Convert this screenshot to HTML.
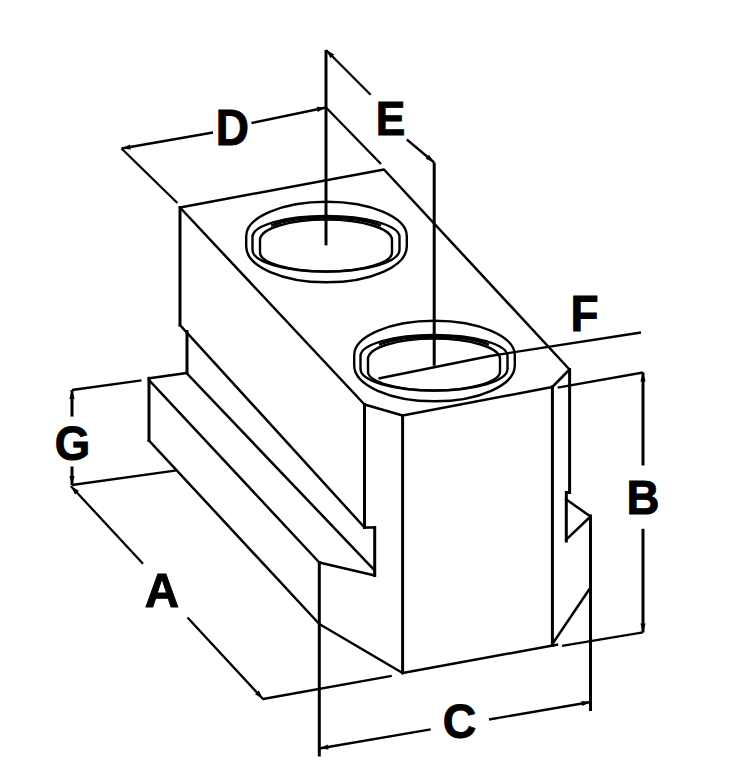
<!DOCTYPE html>
<html><head><meta charset="utf-8">
<style>
html,body{margin:0;padding:0;background:#fff;}
body{width:745px;height:781px;overflow:hidden;}
svg{display:block;}
text{font-family:"Liberation Sans",sans-serif;font-weight:bold;fill:#000;}
</style></head>
<body>
<svg width="745" height="781" viewBox="0 0 745 781">
<rect width="745" height="781" fill="#fff"/>
<g fill="none" stroke="#000" stroke-linecap="square" stroke-linejoin="round">
<g stroke-width="3.0">
<path d="M180,207.5 L180,325"/>
<path d="M364.5,404.5 L364.5,527.5"/>
<path d="M402.6,415.5 L402.6,673"/>
<path d="M552.4,387 L552.4,645.5"/>
<path d="M569.6,369.5 L569.6,492.5"/>
<path d="M187,331.5 L187,373"/>
<path d="M149,378.3 L149,440.5"/>
<path d="M374.7,527.5 L374.7,575.5"/>
<path d="M566.3,492.5 L566.3,541"/>
<path d="M590.5,516 L590.5,709.5"/>
<path d="M319.3,562.5 L319.3,755"/>
</g>
<g stroke-width="2.5">
<path d="M180,207.5 L384,169.5 L569.5,369.5 L552.3,387 L402.6,415.5 L364.5,404.5 Z"/>
<path d="M180,325 L364.5,527.5 L374.7,527.5"/>
<path d="M187,373 L149,378.3"/>
<path d="M149,440.5 L319.3,624 L402.6,673 L557,644.7"/>
<path d="M149,380 L319.3,562.5 L374.7,575.5"/>
<path d="M569.6,492.5 L566.3,492.5"/>
<path d="M566.3,499.5 L590.5,516.5 L566.3,539.5"/>
<path d="M590.5,587.5 L552.4,644"/>
</g>
<g stroke-width="2.5">
<path d="M187,373.5 L374.7,570.5"/>
</g>
<g stroke-width="2.4" stroke-linecap="butt">
<path d="M271,225.7 A70,21.5 0 0 1 381,225.7"/>
<path d="M246.20,246.60 L246.20,236.20 A80.30,34.40 0 0 1 406.80,236.20 L406.80,246.60 A80.30,35.70 0 0 1 246.20,246.60 Z"/>
<path d="M252.50,250.00 L252.50,237.00 A73.50,21.00 0 0 1 399.50,237.00 L399.50,250.00 A73.50,21.60 0 0 1 252.50,250.00 Z"/>
<path d="M260.00,252.50 L260.00,240.00 A66.00,20.50 0 0 1 392.00,240.00 L392.00,252.50 A66.00,19.00 0 0 1 260.00,252.50 Z"/>
<path d="M379,344.7 A70,21.5 0 0 1 489,344.7"/>
<path d="M354.20,365.60 L354.20,355.20 A80.30,34.40 0 0 1 514.80,355.20 L514.80,365.60 A80.30,35.70 0 0 1 354.20,365.60 Z"/>
<path d="M360.50,369.00 L360.50,356.00 A73.50,21.00 0 0 1 507.50,356.00 L507.50,369.00 A73.50,21.60 0 0 1 360.50,369.00 Z"/>
<path d="M368.00,371.50 L368.00,359.00 A66.00,20.50 0 0 1 500.00,359.00 L500.00,371.50 A66.00,19.00 0 0 1 368.00,371.50 Z"/>
</g>
<g stroke-width="2.3" stroke-linecap="butt">
<path d="M121.5,148.5 L213,132.5"/>
<path d="M251.5,123 L326,107.5"/>
<path d="M121.5,148.5 L177.4,203"/>
<path d="M326,107.5 L381,164"/>
<path d="M326,50 L370.6,94.7"/>
<path d="M406.8,139.5 L434.2,162.5"/>
<path d="M378.5,378.5 L490,356 L641,332.5"/>
<path d="M557.7,387.7 L643,372.5"/>
<path d="M643,632.4 L562,645.8"/>
<path d="M319.3,748.5 L430.7,729.3"/>
<path d="M489,719.5 L590.7,702"/>
<path d="M141.5,380.3 L72,390"/>
<path d="M72,485 L176.8,470.3"/>
<path d="M70.8,486 L143,563.7"/>
<path d="M187.5,617.5 L263,699 L391.8,675.8"/>
</g>
<g stroke-width="3.0" stroke-linecap="butt">
<path d="M326,50 L326,245.3"/>
<path d="M434.2,162.5 L434.2,365.7"/>
<path d="M643,372.5 L643,465.5"/>
<path d="M643,528.8 L643,632.4"/>
<path d="M72,390 L72,416.6"/>
<path d="M72,466.5 L72,485"/>
</g>
</g>
<g fill="#000" stroke="none">
<path d="M326.0,107.5 L316.7,106.8 L317.7,111.9 Z"/>
<path d="M121.5,148.5 L130.8,149.5 L129.9,144.4 Z"/>
<path d="M326.0,50.0 L330.5,58.2 L334.2,54.5 Z"/>
<path d="M434.2,162.5 L429.0,154.7 L425.6,158.7 Z"/>
<path d="M643.0,372.5 L640.4,381.5 L645.6,381.5 Z"/>
<path d="M643.0,632.4 L645.6,623.4 L640.4,623.4 Z"/>
<path d="M590.7,702.0 L581.4,701.0 L582.3,706.1 Z"/>
<path d="M319.3,748.5 L328.6,749.5 L327.7,744.4 Z"/>
<path d="M72.0,390.0 L69.4,399.0 L74.6,399.0 Z"/>
<path d="M72.0,485.0 L74.6,476.0 L69.4,476.0 Z"/>
<path d="M70.8,486.0 L75.0,494.4 L78.8,490.8 Z"/>
<path d="M263.0,699.0 L258.8,690.6 L255.0,694.2 Z"/>
</g>
<g fill="#000" stroke="#000" text-anchor="middle">
<text transform="translate(232.3,145.3) scale(0.936,1)" font-size="49.1" stroke-width="0.98">D</text>
<text transform="translate(390.6,134.5) scale(0.914,1)" font-size="48.5" stroke-width="0.97">E</text>
<text transform="translate(584.5,331.0) scale(0.919,1)" font-size="49.9" stroke-width="1.00">F</text>
<text transform="translate(642.9,514.2) scale(0.932,1)" font-size="49.0" stroke-width="0.98">B</text>
<text transform="translate(459.5,737.9) scale(0.963,1)" font-size="48.1" stroke-width="0.96">C</text>
<text transform="translate(161.8,607.2) scale(0.97,1)" font-size="49.0" stroke-width="0.98">A</text>
<text transform="translate(72.4,459.7) scale(0.956,1)" font-size="47.7" stroke-width="0.95">G</text>
</g>
</svg>
</body></html>
